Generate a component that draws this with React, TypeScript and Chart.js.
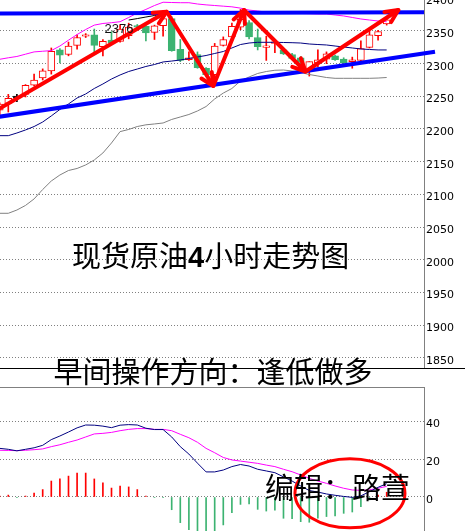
import React, { useEffect, useRef } from "react";
import { Chart, registerables } from "chart.js";

Chart.register(...registerables);

// ---------- data ----------
const barIndex = [0, 1, 2, 3, 4, 5, 6, 7, 8, 9, 10, 11, 12, 13, 14, 15, 16, 17, 18, 19, 20, 21, 22, 23, 24, 25, 26, 27, 28, 29, 30, 31, 32, 33, 34, 35, 36, 37, 38, 39, 40, 41, 42, 43, 44, 45];

const opens = [2229, 2239, 2248, 2253, 2267, 2278, 2289, 2321, 2314, 2328, 2342, 2344, 2326, 2336, 2334, 2343, 2358, 2357, 2348, 2358, 2369, 2322, 2306, 2314, 2293, 2283, 2328, 2341, 2356, 2363, 2340, 2325, 2331, 2321, 2314, 2309, 2290, 2301, 2307, 2312, 2307, 2303, 2305, 2325, 2343, 2361];
const highs = [2240, 2253, 2253, 2268, 2284, 2292, 2324, 2323, 2333, 2344, 2346, 2353, 2337, 2349, 2359, 2362, 2360, 2358, 2359, 2381, 2372, 2337, 2318, 2318, 2294, 2331, 2341, 2362, 2383, 2366, 2353, 2342, 2337, 2322, 2316, 2311, 2303, 2321, 2318, 2313, 2309, 2310, 2335, 2351, 2351, 2370];
const lows = [2222, 2226, 2242, 2249, 2266, 2275, 2284, 2301, 2312, 2322, 2340, 2317, 2312, 2330, 2333, 2338, 2354, 2335, 2337, 2342, 2319, 2303, 2305, 2293, 2281, 2268, 2327, 2340, 2352, 2338, 2321, 2305, 2317, 2314, 2306, 2298, 2281, 2295, 2300, 2305, 2300, 2293, 2304, 2324, 2336, 2359];
const closes = [2238, 2247, 2248, 2267, 2275, 2289, 2319, 2313, 2327, 2340, 2343, 2328, 2334, 2332, 2353, 2356, 2356, 2347, 2358, 2369, 2320, 2305, 2309, 2294, 2283, 2327, 2337, 2357, 2368, 2341, 2326, 2326, 2332, 2315, 2308, 2302, 2303, 2306, 2315, 2306, 2301, 2306, 2323, 2344, 2349, 2367];

const upperBand = [2306.7, 2309, 2311, 2314.5, 2318, 2319, 2320, 2327, 2336, 2344.6, 2352.3, 2359, 2361.5, 2362.7, 2364.2, 2370.7, 2377.5, 2383, 2389, 2394, 2393.6, 2393.3, 2393.3, 2391.3, 2390, 2389, 2388, 2387, 2385, 2382, 2380.6, 2379, 2378.3, 2377.5, 2376.8, 2376.8, 2376.5, 2376, 2376, 2374.5, 2373, 2370.7, 2368.4, 2366.8, 2365.3, 2364.2];
const midBand = [2189.8, 2189.8, 2193.9, 2198.5, 2203.8, 2210.7, 2220, 2229.9, 2238.3, 2247.5, 2253.6, 2262, 2268.9, 2276.5, 2282.7, 2288, 2291.8, 2295.7, 2298.7, 2302.6, 2304, 2305.6, 2307.9, 2310.2, 2312.5, 2315.6, 2318.6, 2324, 2329.3, 2331.6, 2332.7, 2332.7, 2332.7, 2332.4, 2332.1, 2331.6, 2330.1, 2329.3, 2328.6, 2327, 2325.5, 2324, 2322.5, 2321.7, 2321, 2321];
const lowerBand = [2071, 2071, 2076, 2083, 2093, 2107.4, 2120.4, 2129.6, 2136.5, 2139.6, 2145, 2152.6, 2163.3, 2178.6, 2196, 2199.3, 2203.8, 2206.4, 2207.7, 2209.2, 2214.6, 2218.4, 2222.2, 2227.6, 2234.4, 2246, 2255, 2262, 2273.5, 2279.6, 2285, 2288, 2289.9, 2290.3, 2288.8, 2286.5, 2283.4, 2281.1, 2278.8, 2277.6, 2277.6, 2277.6, 2277.6, 2277.6, 2278, 2278.8];
const blackLine = [null, null, null, null, null, null, null, null, null, null, null, null, null, null, null, 2366.8, 2369, 2371.4, 2373.7, 2376, null, null, null, null, null, null, null, null, null, null, null, null, null, null, null, null, null, null, null, null, null, null, null, null, null, null];

const resistanceLine = [{ x: 0, y: 2376.8 }, { x: 49.34, y: 2378.6 }];
const supportLine = [{ x: 0, y: 2218.9 }, { x: 50.62, y: 2318.3 }];
const arrowPath = [
  { x: 0.035, y: 2231.7 },
  { x: 19.42, y: 2379.5 },
  { x: 24.84, y: 2265.8 },
  { x: 28.41, y: 2382.1 },
  { x: 35.56, y: 2288 },
  { x: 46.35, y: 2382.1 },
];

const macdHist = [0.5, 1, -0.3, 0.5, 2.1, 3.9, 8.4, 9.5, 11, 12.6, 12.6, 9.5, 7.4, 4.7, 5.8, 5.3, 3.9, 0.5, -0.3, -0.2, -6.7, -13.5, -17.2, -22, -24, -20, -14.7, -8.2, -3.9, -3.7, -6.5, -7.4, -7, -11.2, -11.4, -13, -13.3, -11.2, -10.3, -10, -8.6, -7.9, -5.1, -1.5, 1, 2.5];
const macdDif = [25.6, 25.1, 24.3, 25.1, 25.9, 27.2, 30.2, 32.1, 34.2, 36.4, 37.9, 37.8, 37.3, 36.5, 37.8, 38.1, 37.9, 36.2, 35.5, 35.5, 31.6, 26.5, 22.6, 17.8, 13.2, 13.2, 14.2, 16, 17.1, 16.3, 14.6, 13.7, 12.8, 10.6, 8.4, 5.8, 3.4, 2.6, 1.6, 0.9, 0.3, -0.2, 0.6, 2.8, 5.1, 7];
const macdDea = [24.6, 24.5, 24.4, 24.6, 24.9, 25.3, 26.5, 27.5, 28.8, 30, 31.6, 33.2, 33.5, 34, 34.9, 35.6, 36, 36, 35.6, 35.6, 34.9, 33, 31.2, 28.8, 25.6, 23.3, 20.8, 19.5, 18.9, 18.3, 17.7, 16.8, 16, 14.6, 13.3, 11.6, 9.8, 8.4, 7.2, 5.8, 4.6, 3.7, 3.5, 3.8, 4.6, 5.6];

const priceTicks = [1850, 1900, 1950, 2000, 2050, 2100, 2150, 2200, 2250, 2300, 2350, 2400];
const macdTicks = [0, 20, 40];
const circledPoint = { x: 40.73, y: 1.95 };

// ---------- styles ----------
const X_MIN = 0.035;
const X_MAX = 49.34;
const RED = "#ff0000";
const GREEN = "#3cb371";
const BLACK = "#000000";

const candleColors = barIndex.map((k) => (closes[k] > opens[k] ? RED : closes[k] < opens[k] ? GREEN : BLACK));
const bodyFills = barIndex.map((k) => (closes[k] > opens[k] ? "#ffffff" : candleColors[k]));

const xScale = () => ({ type: "linear", min: X_MIN, max: X_MAX, display: false, offset: false });
const yScale = (min: number, max: number, ticks: number[]) => ({
  type: "linear",
  position: "right",
  min,
  max,
  afterBuildTicks: (s: any) => {
    s.ticks = ticks.map((v) => ({ value: v }));
  },
  afterFit: (s: any) => {
    s.width = 41;
    s.paddingTop = 0;
    s.paddingBottom = 0;
  },
  ticks: {
    autoSkip: false,
    callback: (v: any) => String(v),
    color: "#000000",
    font: { family: "DejaVu Sans", size: 11 },
    padding: 2,
    labelOffset: 3,
  },
  grid: { color: "#808080", lineWidth: 1, drawTicks: false },
  border: { display: true, color: "#808080", width: 1, dash: [1, 2] },
});

const lineDs = (label: string, data: any[], color: string, width: number, order: number, extra: any = {}) => ({
  type: "line",
  label,
  data,
  borderColor: color,
  borderWidth: width,
  pointRadius: 0,
  pointHoverRadius: 0,
  tension: 0,
  fill: false,
  order,
  ...extra,
});

const arrowHeads = {
  id: "arrowHeads",
  afterDatasetsDraw(chart: any) {
    const idx = chart.data.datasets.findIndex((d: any) => d.label === "arrows");
    if (idx < 0) return;
    const pts = chart.getDatasetMeta(idx).data;
    const ctx = chart.ctx;
    ctx.save();
    ctx.strokeStyle = RED;
    ctx.lineWidth = 4;
    ctx.lineCap = "round";
    ctx.lineJoin = "round";
    for (let i = 1; i < pts.length; i++) {
      const a = pts[i - 1];
      const b = pts[i];
      const ang = Math.atan2(b.y - a.y, b.x - a.x);
      const L = 14;
      const spread = 0.45;
      ctx.beginPath();
      ctx.moveTo(b.x - L * Math.cos(ang - spread), b.y - L * Math.sin(ang - spread));
      ctx.lineTo(b.x, b.y);
      ctx.lineTo(b.x - L * Math.cos(ang + spread), b.y - L * Math.sin(ang + spread));
      ctx.stroke();
    }
    ctx.restore();
  },
};

const ellipseMark = {
  id: "ellipseMark",
  afterDatasetsDraw(chart: any) {
    const cx = chart.scales.x.getPixelForValue(circledPoint.x);
    const cy = chart.scales.y.getPixelForValue(circledPoint.y);
    const ctx = chart.ctx;
    ctx.save();
    ctx.strokeStyle = RED;
    ctx.lineWidth = 3;
    ctx.beginPath();
    ctx.ellipse(cx, cy, 55, 34.5, 0, 0, Math.PI * 2);
    ctx.stroke();
    ctx.restore();
  },
};

const commonOptions = {
  responsive: false,
  maintainAspectRatio: false,
  devicePixelRatio: 1,
  animation: false,
  events: [],
  layout: { padding: 0, autoPadding: false },
  plugins: { legend: { display: false }, tooltip: { enabled: false } },
};

export default function App() {
  const mainRef = useRef<HTMLCanvasElement>(null);
  const macdRef = useRef<HTMLCanvasElement>(null);

  useEffect(() => {
    const main = new Chart(mainRef.current as HTMLCanvasElement, {
      type: "bar",
      data: {
        datasets: [
          {
            type: "bar",
            label: "wicks",
            data: barIndex.map((k) => ({ x: k, y: [lows[k], highs[k]] })),
            backgroundColor: candleColors,
            borderWidth: 0,
            barThickness: 1,
            grouped: false,
            order: 10,
          },
          {
            type: "bar",
            label: "bodies",
            data: barIndex.map((k) => ({ x: k, y: [opens[k], closes[k]] })),
            backgroundColor: bodyFills,
            borderColor: candleColors,
            borderWidth: 1,
            borderSkipped: false,
            barThickness: 7,
            minBarLength: 1.5,
            grouped: false,
            order: 9,
          },
          lineDs("lower", barIndex.map((k) => ({ x: k, y: lowerBand[k] })), "#808080", 1, 8),
          lineDs("mid", barIndex.map((k) => ({ x: k, y: midBand[k] })), "#000080", 1, 7),
          lineDs("upper", barIndex.map((k) => ({ x: k, y: upperBand[k] })), "#ff00ff", 1, 6),
          lineDs("black", barIndex.map((k) => ({ x: k, y: blackLine[k] })), "#000000", 1, 5),
          lineDs("resistance", resistanceLine, "#0000ff", 4, 4),
          lineDs("support", supportLine, "#0000ff", 4, 3, { clip: false }),
          lineDs("arrows", arrowPath, RED, 4, 1, { borderJoinStyle: "round", borderCapStyle: "round" }),
        ] as any,
      },
      options: {
        ...commonOptions,
        scales: {
          x: xScale(),
          y: yScale(1834.2, 2400.5, priceTicks),
        },
      } as any,
      plugins: [arrowHeads],
    });

    const macd = new Chart(macdRef.current as HTMLCanvasElement, {
      type: "bar",
      data: {
        datasets: [
          {
            type: "bar",
            label: "hist",
            data: barIndex.map((k) => ({ x: k, y: macdHist[k] })),
            backgroundColor: macdHist.map((v) => (v >= 0 ? RED : GREEN)),
            borderWidth: 0,
            barThickness: 1,
            grouped: false,
            order: 5,
          },
          lineDs("dea", barIndex.map((k) => ({ x: k, y: macdDea[k] })), "#ff00ff", 1, 4),
          lineDs("dif", barIndex.map((k) => ({ x: k, y: macdDif[k] })), "#000080", 1, 3),
        ] as any,
      },
      options: {
        ...commonOptions,
        scales: {
          x: xScale(),
          y: yScale(-17.9, 57.9, macdTicks),
        },
      } as any,
      plugins: [ellipseMark],
    });

    return () => {
      main.destroy();
      macd.destroy();
    };
  }, []);

  const cjk = '"Noto Sans CJK SC", "Noto Sans CJK JP", sans-serif';
  const title: React.CSSProperties = {
    position: "absolute",
    fontFamily: cjk,
    fontSize: 29,
    lineHeight: "29px",
    color: "#000",
    whiteSpace: "nowrap",
    margin: 0,
  };

  return (
    <div style={{ position: "fixed", left: 0, top: 0, width: 465, height: 531, background: "#fff", overflow: "hidden" }}>
      <canvas ref={mainRef} width={465} height={370} style={{ position: "absolute", left: 0, top: -2, width: 465, height: 370 }} />
      <div style={{ position: "absolute", left: 0, top: 368, width: 465, height: 1, background: "#000" }} />
      <canvas ref={macdRef} width={465} height={144} style={{ position: "absolute", left: 0, top: 387, width: 465, height: 144 }} />
      <div style={{ position: "absolute", left: 0, top: 387, width: 425, height: 1, background: "#808080" }} />
      <div style={{ position: "absolute", left: 104.5, top: 22.3, fontFamily: '"Liberation Sans", Arial, sans-serif', fontSize: 13, lineHeight: "13px", color: "#111" }}>2376</div>
      <div style={{ ...title, left: 72, top: 240 }}>
        现货原油<span style={{ fontFamily: '"Liberation Sans", Arial, sans-serif', fontWeight: "bold" }}>4</span>小时走势图
      </div>
      <div style={{ ...title, left: 53.5, top: 356 }}>早间操作方向：逢低做多</div>
      <div style={{ ...title, left: 265, top: 471.5 }}>编辑：路萱</div>
    </div>
  );
}
